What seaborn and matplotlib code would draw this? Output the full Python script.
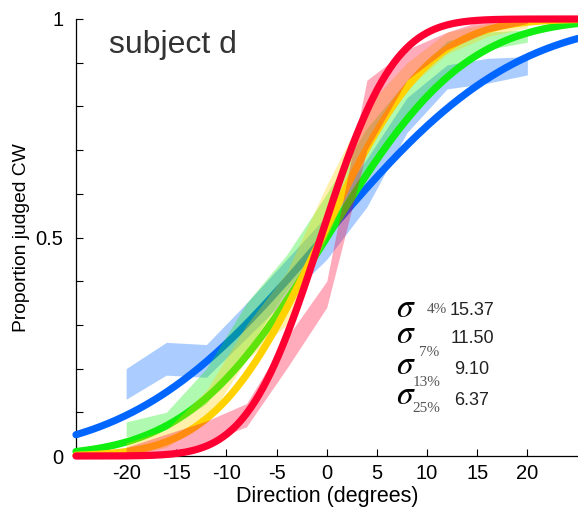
import math
import numpy as np
import pandas as pd
import seaborn as sns
import matplotlib
matplotlib.use("Agg")
import matplotlib.pyplot as plt
from matplotlib.ticker import MultipleLocator, FixedLocator

# ---------------- data ----------------
conditions = ["4%", "7%", "13%", "25%"]
sigma_labels = [15.37, 11.50, 9.10, 6.37]
# fitted curve parameters as they appear in the picture
curve_mu = [-0.3, 0.0, -0.5, -0.6]
curve_sd = [14.9, 10.8, 8.4, 5.7]
colors = ["#0066ff", "#11ee11", "#ffd200", "#ff0033"]

directions = [-20, -16, -12, -8, -4, 0, 4, 8, 12, 16, 20]
blue_lo   = [0.13, 0.185, 0.18, 0.27, 0.36, 0.45, 0.57, 0.74, 0.84, 0.853, 0.872]
blue_hi   = [0.20, 0.26, 0.255, 0.35, 0.45, 0.55, 0.68, 0.82, 0.895, 0.91, 0.914]
green_lo  = [0.044, 0.06, 0.12, 0.24, 0.38, 0.50, 0.64, 0.78, 0.88, 0.93, 0.947]
green_hi  = [0.078, 0.10, 0.20, 0.35, 0.46, 0.60, 0.75, 0.86, 0.95, 0.97, 0.975]
yellow_lo = [0.0, 0.02, 0.08, 0.22, 0.30, 0.50, 0.70, 0.84, 0.92, 0.96, 0.98]
yellow_hi = [0.03, 0.06, 0.15, 0.30, 0.42, 0.62, 0.80, 0.90, 0.97, 0.99, 1.0]
red_lo    = [0.0, 0.0, 0.03, 0.067, 0.20, 0.34, 0.70, 0.86, 0.93, 0.97, 0.99]
red_hi    = [0.02, 0.05, 0.08, 0.12, 0.27, 0.40, 0.86, 0.93, 0.97, 1.0, 1.0]
band_lo = [blue_lo, green_lo, yellow_lo, red_lo]
band_hi = [blue_hi, green_hi, yellow_hi, red_hi]

x_ticks = [-20, -15, -10, -5, 0, 5, 10, 15, 20]
y_ticks = [0, 0.5, 1]
y_tick_labels = ["0", "0.5", "1"]

# ---------------- figure ----------------
sns.set_style("white")
plt.rcParams["font.family"] = ["Liberation Sans", "DejaVu Sans"]

W, H = 578, 519
fig = plt.figure(figsize=(W / 100, H / 100), dpi=100)
ax = fig.add_axes([76 / W, 1 - 456 / H, (577.5 - 76) / W, (456 - 19) / H])

xgrid = np.linspace(-25, 25, 501)
phi = np.vectorize(lambda z: 0.5 * (1 + math.erf(z / math.sqrt(2))))

rows = []
for c, mu, s in zip(conditions, curve_mu, curve_sd):
    for xv, pv in zip(xgrid, phi((xgrid - mu) / s)):
        rows.append({"direction": xv, "p": pv, "cond": c})
curves = pd.DataFrame(rows)

for i, c in enumerate(conditions):
    sub = curves[curves["cond"] == c]
    sns.lineplot(data=sub, x="direction", y="p", color=colors[i], lw=5.2,
                 ax=ax, zorder=3 + 2 * i, clip_on=False, legend=False)
    ax.fill_between(directions, band_lo[i], band_hi[i], color=colors[i],
                    alpha=0.33, lw=0, zorder=4 + 2 * i)

ax.set_xlim(-25, 25)
ax.set_ylim(0, 1)
ax.xaxis.set_major_locator(FixedLocator(x_ticks))
ax.set_xticklabels([str(t) for t in x_ticks])
ax.yaxis.set_major_locator(FixedLocator(y_ticks))
ax.set_yticklabels(y_tick_labels)
ax.yaxis.set_minor_locator(MultipleLocator(0.1))
ax.tick_params(axis="both", which="both", direction="in", length=5, width=0.8,
               color="black", labelsize=14.5, labelcolor="black")
ax.tick_params(axis="y", which="both", left=True, pad=9)
ax.tick_params(axis="x", which="major", bottom=True, pad=6)
for side in ["top", "right"]:
    ax.spines[side].set_visible(False)
for side in ["left", "bottom"]:
    ax.spines[side].set_color("black")
    ax.spines[side].set_linewidth(0.9)

ax.set_xlabel("Direction (degrees)", fontsize=15.5, color="black", labelpad=2)
ax.set_ylabel("Proportion judged CW", fontsize=13.9, color="black", labelpad=4)

ax.text(-21.7, 0.94, "subject d", fontsize=23, color="#333333",
        va="center", ha="left")

# sigma legend (positions in pixels of the figure)
def fx(px):
    return px / W

def fy(py):
    return 1 - py / H

sig_base = [317, 343, 374, 404]
sub_base = [313, 356, 386, 412]
sub_x = [427, 419, 413, 412]
val_base = [315, 343, 374, 405]
for i, lab in enumerate(conditions):
    fig.text(fx(396), fy(sig_base[i]), r"$\sigma$", fontsize=24,
             math_fontfamily="stix", color="black",
             va="baseline", ha="left")
    fig.text(fx(sub_x[i]), fy(sub_base[i]), lab, fontsize=11,
             family="Liberation Serif", color="#555555", va="baseline", ha="left")
    fig.text(fx(472), fy(val_base[i]), f"{sigma_labels[i]:.2f}", fontsize=13,
             color="#222222", va="baseline", ha="center")

fig.savefig("out.png", dpi=100)
